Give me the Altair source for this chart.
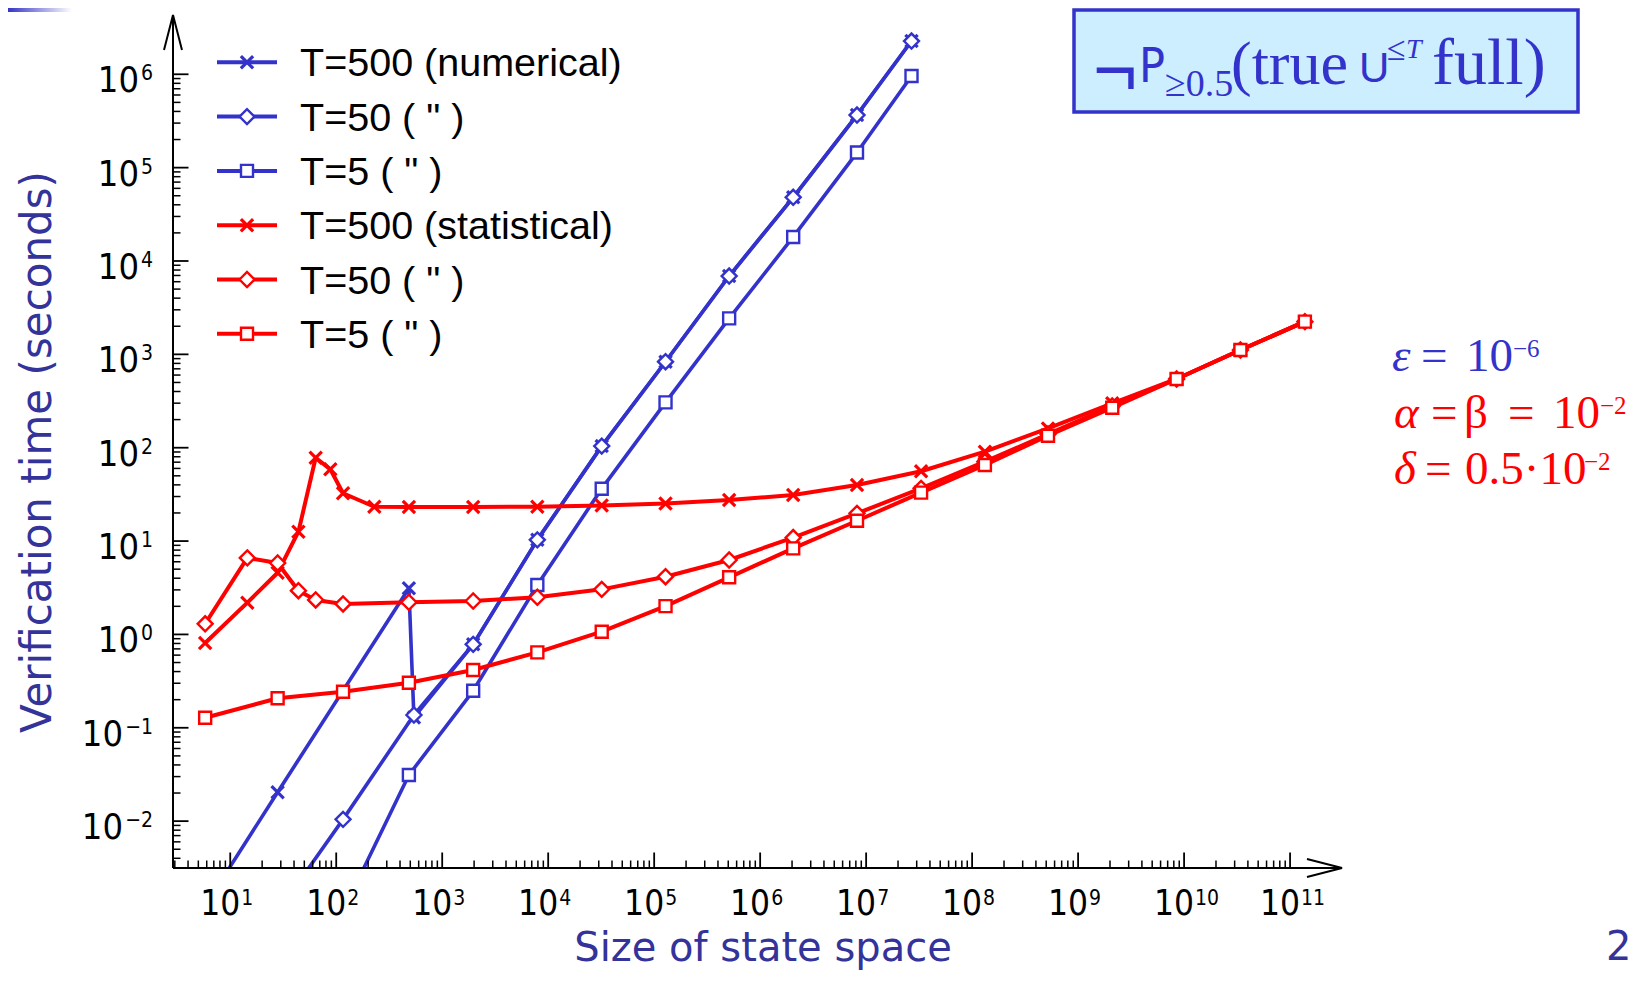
import altair as alt
import pandas as pd

# ---------------- values ----------------
SERIES_KEYS = ["num500", "num50", "num5", "stat500", "stat50", "stat5"]
LEGEND_LABELS = ['T=500 (numerical)', 'T=50 ( " )', 'T=5 ( " )',
                 'T=500 (statistical)', 'T=50 ( " )', 'T=5 ( " )']
LEGEND_MARKERS = ["cross", "diamond", "square", "cross", "diamond", "square"]

NUM500_X = [5.8, 28, 485, 541, 1.96e3, 7.9e3, 3.2e4, 1.28e5, 5.1e5, 2.05e6, 8.2e6, 2.68e7]
NUM500_Y = [0.00124, 0.0204, 3.12, 0.129, 0.783, 10.3, 104, 834, 6900, 48100, 366000, 2.27e6]
NUM50_X = [28, 116, 541, 1.96e3, 7.9e3, 3.2e4, 1.28e5, 5.1e5, 2.05e6, 8.2e6, 2.68e7]
NUM50_Y = [0.00106, 0.01045, 0.137, 0.783, 10.3, 104, 834, 6900, 48100, 366000, 2.27e6]
NUM5_X = [116, 485, 1.96e3, 7.9e3, 3.2e4, 1.28e5, 5.1e5, 2.05e6, 8.2e6, 2.68e7]
NUM5_Y = [0.00109, 0.0312, 0.249, 3.38, 36.4, 306, 2430, 18100, 145000, 960000]

STAT500_X = [5.8, 14.5, 28, 44, 64, 88, 116, 229, 485, 1.96e3, 7.9e3, 3.2e4, 1.28e5,
             5.1e5, 2.05e6, 8.2e6, 3.3e7, 1.32e8, 5.2e8, 2.1e9, 8.5e9, 3.4e10, 1.38e11]
STAT500_Y = [0.81, 2.19, 4.58, 12.6, 78, 58.7, 32.5, 23.3, 23.2, 23.2, 23.3, 24.1, 25.2,
             27.5, 31.1, 39.8, 56, 90.6, 161, 299, 545, 1114, 2240]
STAT50_X = [5.8, 14.5, 28, 44, 64, 116, 485, 1.96e3, 7.9e3, 3.2e4, 1.28e5, 5.1e5,
            2.05e6, 8.2e6, 3.3e7, 1.32e8, 5.2e8, 2.1e9, 8.5e9, 3.4e10, 1.38e11]
STAT50_Y = [1.30, 6.6, 5.82, 2.94, 2.34, 2.12, 2.21, 2.28, 2.50, 3.04, 4.15, 6.27,
            10.9, 19.8, 36.7, 70.8, 140, 280, 545, 1114, 2240]
STAT5_X = [5.8, 28, 116, 485, 1.96e3, 7.9e3, 3.2e4, 1.28e5, 5.1e5, 2.05e6, 8.2e6,
           3.3e7, 1.32e8, 5.2e8, 2.1e9, 8.5e9, 3.4e10, 1.38e11]
STAT5_Y = [0.128, 0.207, 0.243, 0.304, 0.416, 0.643, 1.07, 2.01, 4.09, 8.36, 16.5,
           33, 65.3, 134.5, 268, 545, 1114, 2240]

X_TICK_EXP = [1, 2, 3, 4, 5, 6, 7, 8, 9, 10, 11]
X_TICK_SUP = ["1", "2", "3", "4", "5", "6", "7", "8", "9", "10", "11"]
Y_TICK_EXP = [-2, -1, 0, 1, 2, 3, 4, 5, 6]
Y_TICK_SUP = ["\u22122", "\u22121", "0", "1", "2", "3", "4", "5", "6"]

# ---------------- layout / style ----------------
W, H = 1169, 853
PAD_L, PAD_T, PAD_R, PAD_B = 165, 7, 291, 102
OX, OY = 8 + PAD_L, 8 + PAD_T          # page position of the plot origin

X_LO, X_HI = 10 ** 0.46, 10 ** 11.49
Y_LO, Y_HI = 10 ** -2.502, 10 ** 6.635
XS = alt.Scale(type="log", domain=[X_LO, X_HI], nice=False)
YS = alt.Scale(type="log", domain=[Y_LO, Y_HI], nice=False)

BLUE, RED, NAVY, BOXFILL = "#3333cc", "#ff0000", "#333399", "#cceeff"
TICKFONT = "Liberation Sans Narrow, Arial Narrow, DejaVu Sans Condensed, Liberation Sans"
SANS = "Liberation Sans, Arial"
TITLEFONT = "DejaVu Sans, Verdana"
SERIF = "Liberation Serif, Times New Roman"
NARROW = "Liberation Sans Narrow, Arial Narrow, DejaVu Sans Condensed, Liberation Sans"
CROSS = "M-1,-1L1,1M-1,1L1,-1"
SHAPES = {"cross": (CROSS, 150, 3.2), "diamond": ("diamond", 225, 2.4), "square": ("square", 144, 2.4)}

ONE = pd.DataFrame({"k": [0]})


def X(f):
    return alt.X(f, type="quantitative", scale=XS, axis=None)


def Y(f):
    return alt.Y(f, type="quantitative", scale=YS, axis=None)


def page_text(text, px, py, size, color, font=SERIF, style="normal", align="left", **kw):
    return alt.Chart(ONE).mark_text(
        text=text, align=align, baseline="alphabetic", fontSize=size, font=font,
        fontStyle=style, color=color, **kw
    ).encode(x=alt.value(px - OX), y=alt.value(py - OY))


rows = []
for key, xs, ys in [("num500", NUM500_X, NUM500_Y), ("num50", NUM50_X, NUM50_Y),
                    ("num5", NUM5_X, NUM5_Y), ("stat500", STAT500_X, STAT500_Y),
                    ("stat50", STAT50_X, STAT50_Y), ("stat5", STAT5_X, STAT5_Y)]:
    for xv, yv in zip(xs, ys):
        rows.append({"series": key, "x": xv, "y": yv})
df = pd.DataFrame(rows)
COLOR = alt.Scale(domain=SERIES_KEYS, range=[BLUE] * 3 + [RED] * 3)


def series_lines(keys, width):
    return alt.Chart(df).transform_filter(
        alt.FieldOneOfPredicate(field="series", oneOf=keys)
    ).mark_line(clip=True, strokeWidth=width, strokeJoin="round").encode(
        x=X("x"), y=Y("y"), detail="series:N",
        color=alt.Color("series:N", scale=COLOR, legend=None))


def series_points(keys, marker):
    shape, size, sw = SHAPES[marker]
    kw = dict(shape=shape, size=size, strokeWidth=sw, opacity=1, clip=True, filled=False)
    if marker != "cross":
        kw.update(fill="white", fillOpacity=1)
    return alt.Chart(df).transform_filter(
        alt.FieldOneOfPredicate(field="series", oneOf=keys)
    ).mark_point(**kw).encode(
        x=X("x"), y=Y("y"),
        stroke=alt.Stroke("series:N", scale=COLOR, legend=None))


layers = []

# corner gradient bar of the slide
layers.append(alt.Chart(ONE).mark_rect(color=alt.LinearGradient(
    gradient="linear", x1=0, x2=1, y1=0, y2=0,
    stops=[alt.GradientStop(color="#3535c8", offset=0),
           alt.GradientStop(color="#ffffff", offset=1)])).encode(
    x=alt.value(8 - OX), x2=alt.value(72 - OX), y=alt.value(8 - OY), y2=alt.value(12 - OY)))

# formula box
layers.append(alt.Chart(ONE).mark_rect(fill=BOXFILL, stroke=BLUE, strokeWidth=3.5).encode(
    x=alt.value(1074 - OX), x2=alt.value(1578 - OX), y=alt.value(10 - OY), y2=alt.value(112 - OY)))
layers += [
    page_text("\u00ac", 1093, 96, 76, BLUE, font=SANS),
    page_text("P", 1139, 82, 48, BLUE, font=NARROW),
    page_text("\u22650.5", 1165, 96, 38, BLUE),
    page_text("(true", 1231, 84, 62, BLUE),
    page_text("U", 1359, 82, 42, BLUE, font=SANS),
    page_text("\u2264", 1387, 60, 34, BLUE),
    page_text("T", 1406, 58, 28, BLUE, style="italic"),
    page_text("full)", 1432, 84, 66, BLUE),
]

# data: numerical (blue) below, statistical (red) on top
layers.append(series_lines(["num500", "num50", "num5"], 3.6))
layers.append(series_points(["num500"], "cross"))
layers.append(series_points(["num50"], "diamond"))
layers.append(series_points(["num5"], "square"))
layers.append(series_lines(["stat500", "stat50", "stat5"], 4.0))
layers.append(series_points(["stat500"], "cross"))
layers.append(series_points(["stat50"], "diamond"))
layers.append(series_points(["stat5"], "square"))

# axes with arrows
ax = pd.DataFrame({"x0": [X_LO], "x1": [X_HI], "y0": [Y_LO], "y1": [Y_HI]})
layers.append(alt.Chart(ax).mark_rule(color="black", strokeWidth=2).encode(
    x=X("x0"), x2=alt.X2("x1"), y=Y("y0")))
layers.append(alt.Chart(ax).mark_rule(color="black", strokeWidth=2).encode(
    x=X("x0"), y=Y("y0"), y2=alt.Y2("y1")))
layers.append(alt.Chart(ax).mark_point(shape="M-0.514,2L0,0L0.514,2", size=1225, color="black",
                                       strokeWidth=2, opacity=1, filled=False).encode(
    x=X("x0"), y=Y("y1")))
layers.append(alt.Chart(ax).mark_point(shape="M-2,-0.514L0,0L-2,0.514", size=1225, color="black",
                                       strokeWidth=2, opacity=1, filled=False).encode(
    x=X("x1"), y=Y("y0")))

# ticks (inward)
x_major = pd.DataFrame({"v": [10.0 ** e for e in X_TICK_EXP]})
x_minor = pd.DataFrame({"v": [m * 10.0 ** k for k in range(0, 11) for m in range(2, 10)
                              if X_LO <= m * 10.0 ** k <= X_HI]})
y_major = pd.DataFrame({"v": [10.0 ** e for e in Y_TICK_EXP]})
y_minor = pd.DataFrame({"v": [m * 10.0 ** k for k in range(-3, 6) for m in range(2, 10)
                              if Y_LO <= m * 10.0 ** k <= Y_HI]})
layers.append(alt.Chart(x_major).mark_rule(color="black", strokeWidth=1.8).encode(
    x=X("v"), y=alt.value(H), y2=alt.value(H - 15.5)))
layers.append(alt.Chart(x_minor).mark_rule(color="black", strokeWidth=1.5).encode(
    x=X("v"), y=alt.value(H), y2=alt.value(H - 7.5)))
layers.append(alt.Chart(y_major).mark_rule(color="black", strokeWidth=1.8).encode(
    y=Y("v"), x=alt.value(0), x2=alt.value(15.5)))
layers.append(alt.Chart(y_minor).mark_rule(color="black", strokeWidth=1.5).encode(
    y=Y("v"), x=alt.value(0), x2=alt.value(7.5)))

# tick labels 10^n
xt = pd.DataFrame({"v": [10.0 ** e for e in X_TICK_EXP], "sup": X_TICK_SUP})
layers.append(alt.Chart(xt).mark_text(text="10", align="right", dx=10, baseline="alphabetic",
                                      fontSize=35, font=TICKFONT, color="black").encode(
    x=X("v"), y=alt.value(H + 47)))
layers.append(alt.Chart(xt).mark_text(align="left", dx=11, baseline="alphabetic",
                                      fontSize=21, font=TICKFONT, color="black").encode(
    x=X("v"), y=alt.value(H + 36.5), text="sup:N"))
yt = pd.DataFrame({"v": [10.0 ** e for e in Y_TICK_EXP], "sup": Y_TICK_SUP,
                   "neg": [1 if e < 0 else 0 for e in Y_TICK_EXP]})
layers.append(alt.Chart(yt).transform_filter("datum.neg == 0").mark_text(
    text="10", align="right", baseline="alphabetic", dy=18, fontSize=36, font=TICKFONT,
    color="black").encode(x=alt.value(-34), y=Y("v")))
layers.append(alt.Chart(yt).transform_filter("datum.neg == 1").mark_text(
    text="10", align="right", baseline="alphabetic", dy=18, fontSize=36, font=TICKFONT,
    color="black").encode(x=alt.value(-50), y=Y("v")))
layers.append(alt.Chart(yt).mark_text(align="right", baseline="alphabetic", dy=6, fontSize=21,
                                      font=TICKFONT, color="black").encode(
    x=alt.value(-20), y=Y("v"), text="sup:N"))

# legend (drawn by hand inside the plot)
for i, (lab, mk) in enumerate(zip(LEGEND_LABELS, LEGEND_MARKERS)):
    c = BLUE if i < 3 else RED
    ry = 62.3 - OY + 54.3 * i
    shape, size, sw = SHAPES[mk]
    layers.append(alt.Chart(ONE).mark_rule(color=c, strokeWidth=4).encode(
        x=alt.value(217 - OX), x2=alt.value(277 - OX), y=alt.value(ry)))
    pkw = dict(shape=shape, size=size, strokeWidth=sw, stroke=c, opacity=1, filled=False)
    if mk != "cross":
        pkw.update(fill="white", fillOpacity=1)
    layers.append(alt.Chart(ONE).mark_point(**pkw).encode(x=alt.value(247 - OX), y=alt.value(ry)))
    layers.append(alt.Chart(pd.DataFrame({"label": [lab]})).mark_text(
        align="left", baseline="alphabetic", fontSize=39.5, font=SANS, color="black").encode(
        x=alt.value(300 - OX), y=alt.value(ry + 14), text="label:N"))

# parameter annotations
EQ = 47
layers += [
    page_text("\u03b5", 1392, 371, EQ, BLUE, style="italic"),
    page_text("=", 1421, 371, EQ, BLUE),
    page_text("10", 1466, 371, EQ, BLUE),
    page_text("\u22126", 1513, 357, 25, BLUE),
    page_text("\u03b1", 1394, 428, EQ, RED, style="italic"),
    page_text("=", 1431, 428, EQ, RED),
    page_text("\u03b2", 1464, 428, EQ, RED),
    page_text("=", 1508, 428, EQ, RED),
    page_text("10", 1553, 428, EQ, RED),
    page_text("\u22122", 1600, 414, 25, RED),
    page_text("\u03b4", 1394, 484, EQ, RED, style="italic"),
    page_text("=", 1425, 484, EQ, RED),
    page_text("0.5\u00b710", 1465, 484, EQ, RED),
    page_text("\u22122", 1584, 470, 25, RED),
]

# axis titles and page number
layers.append(alt.Chart(ONE).mark_text(
    text="Verification time (seconds)", angle=270, align="center", baseline="middle",
    fontSize=42, font=TITLEFONT, color=NAVY).encode(x=alt.value(38 - OX), y=alt.value(452 - OY)))
layers.append(page_text("Size of state space", 763, 960.5, 40, NAVY, font=TITLEFONT, align="center"))
layers.append(page_text("2", 1606, 960, 40, NAVY, font=TITLEFONT))

chart = alt.layer(*layers).properties(
    width=W, height=H,
    padding={"left": PAD_L, "top": PAD_T, "right": PAD_R, "bottom": PAD_B},
    autosize=alt.AutoSizeParams(type="none"),
).configure_view(stroke=None)

chart.save("out.html", embed_options={"renderer": "svg", "actions": False})
